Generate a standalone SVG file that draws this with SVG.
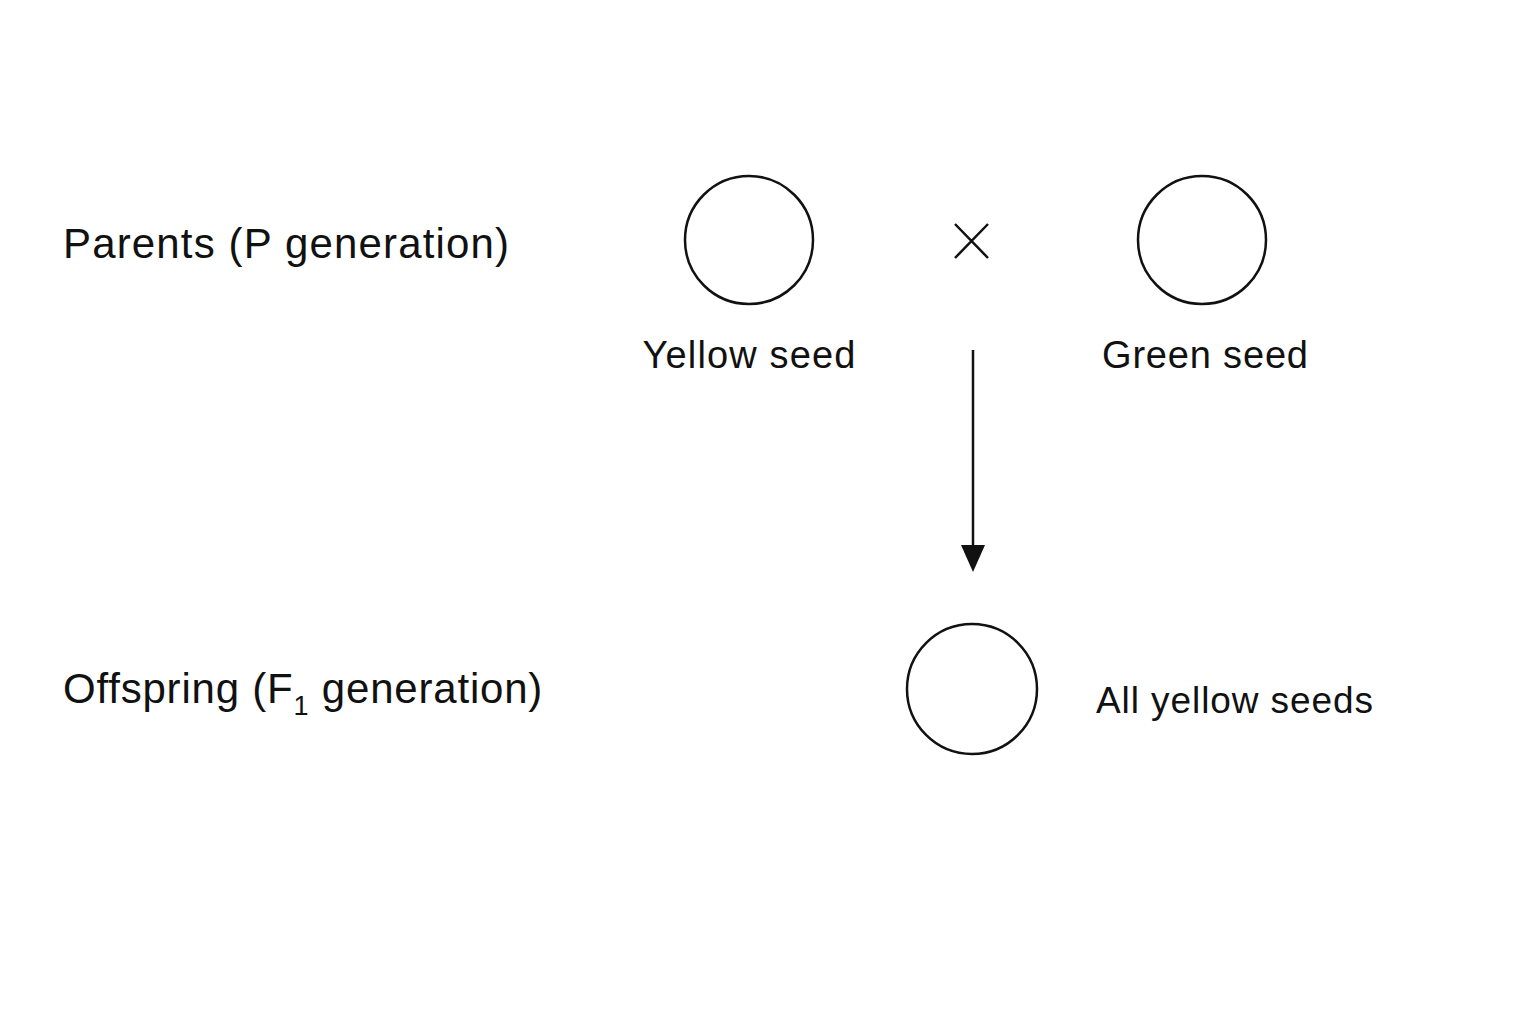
<svg xmlns="http://www.w3.org/2000/svg" width="1536" height="1024" viewBox="0 0 1536 1024">
<style>
.t{font-family:"Liberation Sans",Arial,sans-serif;fill:#111}
.c{fill:none;stroke:#111;stroke-width:2.5}
</style>
<rect width="1536" height="1024" fill="#fff"/>
<g id="label-p"><text class="t" x="63" y="258" font-size="42" textLength="446" lengthAdjust="spacing">Parents (P generation)</text></g>
<g id="label-f1"><text class="t" x="63" y="703" font-size="42" letter-spacing="0.8">Offspring (F<tspan font-size="27" dy="12">1</tspan><tspan dy="-12"> generation)</tspan></text></g>
<g id="yellow"><circle class="c" cx="749" cy="240" r="64"/><text class="t" x="749" y="368" font-size="38" text-anchor="middle" textLength="213" lengthAdjust="spacing">Yellow seed</text></g>
<g id="cross"><path d="M955,224 L988,258 M988,224 L955,258" stroke="#111" stroke-width="2.5"/></g>
<g id="green"><circle class="c" cx="1202" cy="240" r="64"/><text class="t" x="1205" y="368" font-size="38" text-anchor="middle" textLength="206" lengthAdjust="spacing">Green seed</text></g>
<g id="offspring"><circle class="c" cx="972" cy="689" r="65"/><text class="t" x="1096" y="713" font-size="37" textLength="277" lengthAdjust="spacing">All yellow seeds</text></g>
<g id="connectors"><line x1="973" y1="350" x2="973" y2="548" stroke="#111" stroke-width="2.5"/><path d="M961,545 L985,545 L973,572 Z" fill="#111"/></g>
</svg>
